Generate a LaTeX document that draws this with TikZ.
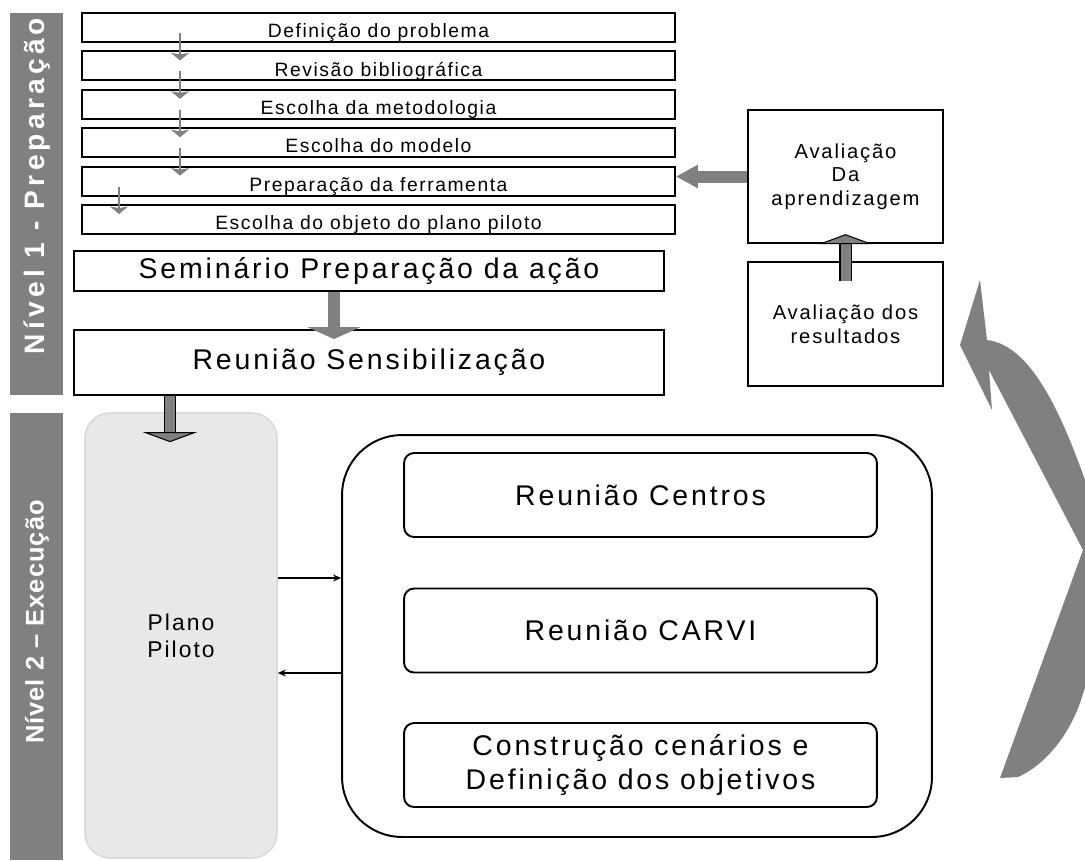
\documentclass[tikz,border=0pt]{standalone}
\usepackage{fontspec}
\setmainfont{Liberation Sans}
\newfontfamily\boxfont[LetterSpace=8]{Liberation Sans}
\newfontfamily\midfont[LetterSpace=9]{Liberation Sans}
\newfontfamily\bigfont[LetterSpace=10]{Liberation Sans}
\newfontfamily\bandfont[LetterSpace=15]{Liberation Sans}
\newfontfamily\bandfontb[LetterSpace=4]{Liberation Sans}
\usetikzlibrary{arrows.meta,positioning}

\begin{document}
\begin{tikzpicture}[x=0.02cm, y=-0.02cm,
        band/.style = {fill=gray, draw=none, inner sep=0pt},
        bandtext/.style = {text=white, rotate=90, inner sep=0pt},
        stepbox/.style = {draw, line width=1.1pt, minimum width=11.86cm, minimum height=0.58cm, inner sep=0pt,
            text height=2.4ex, text depth=0.2ex, font=\boxfont\fontsize{11}{13}\selectfont},
        bigbox/.style = {draw, line width=1.1pt, minimum width=11.8cm, inner sep=0pt, font=\bigfont\fontsize{16.2}{19.5}\selectfont},
        evalbox/.style = {draw, line width=1.3pt, minimum width=3.9cm, inner sep=0pt, align=center, font=\midfont\fontsize{11.5}{13.5}\selectfont},
        planobox/.style = {fill=black!9, draw=black!14, line width=1pt, rounded corners=0.5cm, minimum width=3.84cm,
            minimum height=8.9cm, align=center, font=\midfont\fontsize{13}{15.5}\selectfont},
        execbox/.style = {draw, line width=1.1pt, rounded corners=1.2cm, minimum width=11.8cm, minimum height=8.04cm},
        meetbox/.style = {draw, line width=1.1pt, rounded corners=0.2cm, minimum width=9.46cm, minimum height=1.68cm,
            align=center, font=\bigfont\fontsize{16.2}{19.5}\selectfont},
        steparr/.style = {gray, line width=1.2pt, -{Stealth[length=0.15cm, width=0.36cm, inset=0.03cm]}},
        fatarrow/.style = {gray, line width=0.24cm, -{Triangle[length=0.24cm, width=1.06cm]}},
        sidearrow/.style = {gray, line width=0.24cm, -{Triangle[length=0.44cm, width=0.44cm]}},
        fatoutline/.style = {draw=black, line width=0.6pt, double=gray, double distance=0.2cm,
            -{Triangle[length=0.2cm, width=1.08cm, line width=0.6pt, fill=gray, color=black]}},
        link/.style = {line width=0.7pt, -{Stealth[length=0.16cm, width=0.14cm]}}
    ]
    \useasboundingbox (0,0) rectangle (1085,860);

    % level bands
    \node[band, minimum width=1.06cm, minimum height=7.64cm] (lvl1) at (36.5,204) {};
    \node[bandtext, font=\bandfont\fontsize{16}{19}\selectfont\bfseries] (lvl1txt) at (37,186) {Nível 1 - Preparação};
    \node[band, minimum width=1.06cm, minimum height=8.94cm] (lvl2) at (36.5,636.5) {};
    \node[bandtext, font=\bandfontb\fontsize{14.5}{17}\selectfont\bfseries] (lvl2txt) at (37,622) {Nível 2 – Execução};

    % preparation steps
    \node[stepbox] (def)  at (378.5,27.5)  {Definição do problema};
    \node[stepbox] (rev)  at (378.5,65.9)  {Revisão bibliográfica};
    \node[stepbox] (met)  at (378.5,104.3) {Escolha da metodologia};
    \node[stepbox] (mod)  at (378.5,142.7) {Escolha do modelo};
    \node[stepbox] (prep) at (378.5,181.1) {Preparação da ferramenta};
    \node[stepbox] (obj)  at (378.5,219.5) {Escolha do objeto do plano piloto};

    \node[bigbox, minimum height=0.8cm] (sem)  at (369,271)   {Seminário Preparação da ação};
    \node[bigbox, minimum height=1.3cm] (sens) at (369,362.5) {Reunião Sensibilização};

    % evaluation
    \node[evalbox, minimum height=2.66cm] (aprend) at (845.5,176.5) {Avaliação\\Da\\aprendizagem};
    \node[evalbox, minimum height=2.48cm] (res)    at (845.5,324)   {Avaliação dos\\resultados};

    % execution
    \node[planobox] (plano) at (181,635.5) {Plano\\ Piloto};
    \node[execbox] (exec) at (637,636) {};
    \node[meetbox] (centros)  at (640.5,495)   {Reunião Centros};
    \node[meetbox] (carvi)    at (640.5,630.5) {Reunião CARVI};
    \node[meetbox] (cenarios) at (640.5,765)   {Construção cenários e\\Definição dos objetivos};

    \foreach \a/\b in {def/rev, rev/met, met/mod, mod/prep}
        \draw[steparr] ([xshift=1.98cm,yshift=0.2cm]\a.south west) -- ([xshift=1.98cm,yshift=-0.2cm]\b.north west);
    \draw[steparr] ([xshift=0.76cm,yshift=0.2cm]prep.south west) -- ([xshift=0.76cm,yshift=-0.2cm]obj.north west);

    \draw[fatarrow] ([xshift=-0.7cm]sem.south) -- ([xshift=-0.7cm,yshift=-0.2cm]sens.north);
    \draw[fatoutline] ([xshift=-0.22cm]plano.north |- sens.south) -- ([xshift=-0.22cm,yshift=-0.6cm]plano.north);
    \draw[fatoutline] ([yshift=-0.4cm]res.north) -- ([yshift=0.2cm]aprend.south);
    \draw[sidearrow] (aprend.west) -- (aprend.west -| prep.east);

    \draw[link] ([yshift=1.15cm]plano.east) -- ([yshift=1.15cm]plano.east -| exec.west);
    \draw[link] ([yshift=-0.75cm]plano.east -| exec.west) -- ([yshift=-0.75cm]plano.east);

    % return loop
    \begin{scope}
        \clip (0,0) rectangle (1085,860);
        \fill[gray] (980,280) -- (960,345) -- (992,410) -- (989,370) -- (1083,550) -- (1000,778) -- (1018,777)
            .. controls (1045,765) and (1070,735) .. (1082,697) -- (1100,640) -- (1100,520) -- (1085,480)
            .. controls (1060,410) and (1030,345) .. (987,340) -- cycle;
    \end{scope}

\end{tikzpicture}
\end{document}
